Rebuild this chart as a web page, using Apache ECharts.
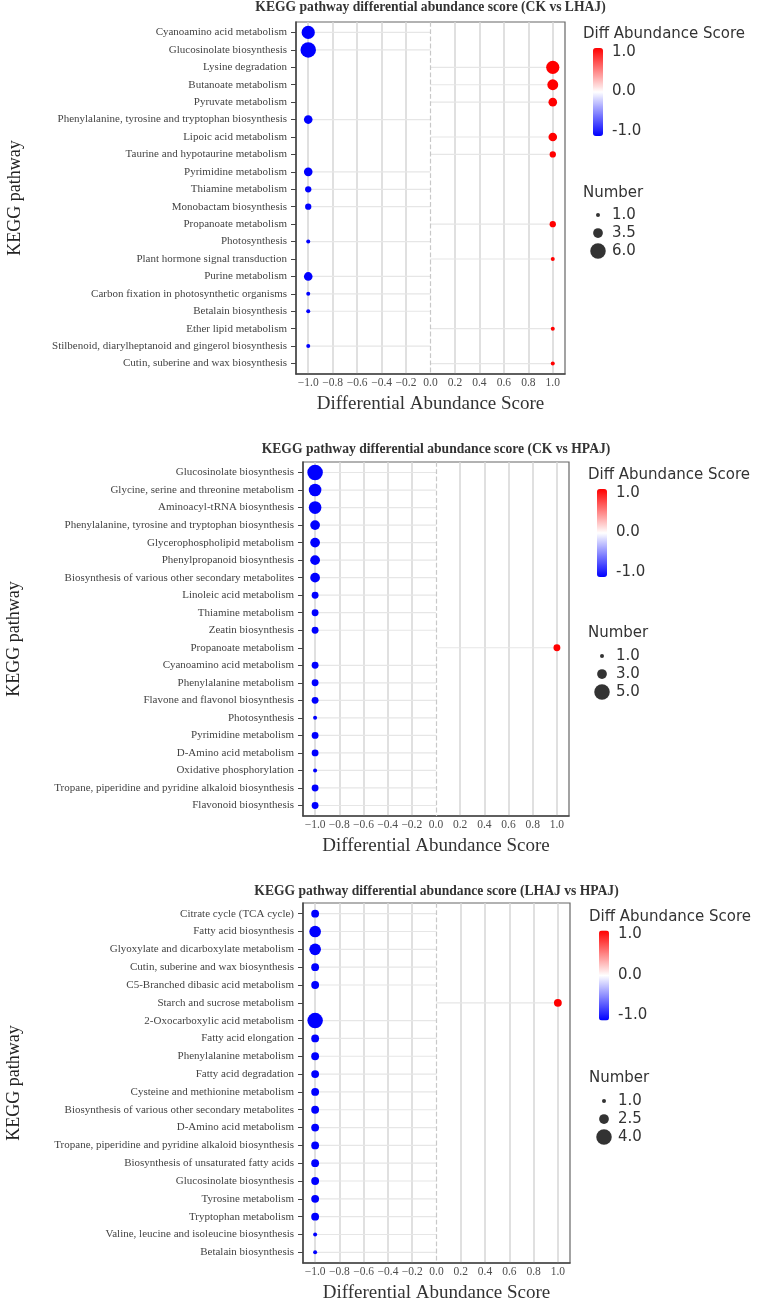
<!DOCTYPE html>
<html>
<head>
<meta charset="utf-8">
<title>KEGG pathway differential abundance score</title>
<script src="https://cdn.jsdelivr.net/npm/echarts@6/dist/echarts.min.js"></script>
<style>
  html, body { margin: 0; padding: 0; background: #fff; }
  #chart { width: 758px; height: 1304px; }
</style>
</head>
<body>
<div id="chart"></div>
<script>
// ---- data ----
var titles = [
  'KEGG pathway differential abundance score (CK vs LHAJ)',
  'KEGG pathway differential abundance score (CK vs HPAJ)',
  'KEGG pathway differential abundance score (LHAJ vs HPAJ)'
];

var cats1 = ['Cyanoamino acid metabolism', 'Glucosinolate biosynthesis', 'Lysine degradation',
  'Butanoate metabolism', 'Pyruvate metabolism', 'Phenylalanine, tyrosine and tryptophan biosynthesis',
  'Lipoic acid metabolism', 'Taurine and hypotaurine metabolism', 'Pyrimidine metabolism',
  'Thiamine metabolism', 'Monobactam biosynthesis', 'Propanoate metabolism', 'Photosynthesis',
  'Plant hormone signal transduction', 'Purine metabolism', 'Carbon fixation in photosynthetic organisms',
  'Betalain biosynthesis', 'Ether lipid metabolism',
  'Stilbenoid, diarylheptanoid and gingerol biosynthesis', 'Cutin, suberine and wax biosynthesis'];
var score1 = [-1, -1, 1, 1, 1, -1, 1, 1, -1, -1, -1, 1, -1, 1, -1, -1, -1, 1, -1, 1];
var num1 = [5, 6, 5, 4, 3, 3, 3, 2, 3, 2, 2, 2, 1, 1, 3, 1, 1, 1, 1, 1];
var breaks1 = [1.0, 3.5, 6.0];

var cats2 = ['Glucosinolate biosynthesis', 'Glycine, serine and threonine metabolism',
  'Aminoacyl-tRNA biosynthesis', 'Phenylalanine, tyrosine and tryptophan biosynthesis',
  'Glycerophospholipid metabolism', 'Phenylpropanoid biosynthesis',
  'Biosynthesis of various other secondary metabolites', 'Linoleic acid metabolism',
  'Thiamine metabolism', 'Zeatin biosynthesis', 'Propanoate metabolism', 'Cyanoamino acid metabolism',
  'Phenylalanine metabolism', 'Flavone and flavonol biosynthesis', 'Photosynthesis',
  'Pyrimidine metabolism', 'D-Amino acid metabolism', 'Oxidative phosphorylation',
  'Tropane, piperidine and pyridine alkaloid biosynthesis', 'Flavonoid biosynthesis'];
var score2 = [-1, -1, -1, -1, -1, -1, -1, -1, -1, -1, 1, -1, -1, -1, -1, -1, -1, -1, -1, -1];
var num2 = [5, 4, 4, 3, 3, 3, 3, 2, 2, 2, 2, 2, 2, 2, 1, 2, 2, 1, 2, 2];
var breaks2 = [1.0, 3.0, 5.0];

var cats3 = ['Citrate cycle (TCA cycle)', 'Fatty acid biosynthesis',
  'Glyoxylate and dicarboxylate metabolism', 'Cutin, suberine and wax biosynthesis',
  'C5-Branched dibasic acid metabolism', 'Starch and sucrose metabolism',
  '2-Oxocarboxylic acid metabolism', 'Fatty acid elongation', 'Phenylalanine metabolism',
  'Fatty acid degradation', 'Cysteine and methionine metabolism',
  'Biosynthesis of various other secondary metabolites', 'D-Amino acid metabolism',
  'Tropane, piperidine and pyridine alkaloid biosynthesis', 'Biosynthesis of unsaturated fatty acids',
  'Glucosinolate biosynthesis', 'Tyrosine metabolism', 'Tryptophan metabolism',
  'Valine, leucine and isoleucine biosynthesis', 'Betalain biosynthesis'];
var score3 = [-1, -1, -1, -1, -1, 1, -1, -1, -1, -1, -1, -1, -1, -1, -1, -1, -1, -1, -1, -1];
var num3 = [2, 3, 3, 2, 2, 2, 4, 2, 2, 2, 2, 2, 2, 2, 2, 2, 2, 2, 1, 1];
var breaks3 = [1.0, 2.5, 4.0];

var xTicks = [-1.0, -0.8, -0.6, -0.4, -0.2, 0.0, 0.2, 0.4, 0.6, 0.8, 1.0];
var colorTicks = ['1.0', '0.0', '-1.0'];

// ---- layout ----
var serif = '"Liberation Serif", "Times New Roman", serif';
var sans = '"DejaVu Sans", sans-serif';

var panels = [
  { cats: cats1, score: score1, num: num1, breaks: breaks1,
    grid: { left: 296, top: 22, width: 269, height: 352 }, titleY: 7.5,
    legX: 583, legTitleY: 34, barX: 593, barY: 48, barH: 88, labX: 612, labY: [52, 91, 131],
    numY: 193, symY: [215, 233, 251], yTitle: [15, 198] },
  { cats: cats2, score: score2, num: num2, breaks: breaks2,
    grid: { left: 303, top: 462, width: 266, height: 354 }, titleY: 449.5,
    legX: 588, legTitleY: 475, barX: 597, barY: 489, barH: 88, labX: 616, labY: [493, 532, 572],
    numY: 633, symY: [656, 674, 692], yTitle: [14, 639] },
  { cats: cats3, score: score3, num: num3, breaks: breaks3,
    grid: { left: 303, top: 903, width: 267, height: 360 }, titleY: 891,
    legX: 589, legTitleY: 917, barX: 599, barY: 930.5, barH: 90, labX: 618, labY: [934, 975, 1015],
    numY: 1078, symY: [1101, 1119, 1137], yTitle: [14, 1083] }
];

function fmtTick(v) {
  return Number(v).toFixed(1).replace('-', '\u2212');
}

function sizeFn(n, breaks) {
  var lo = breaks[0], hi = breaks[breaks.length - 1];
  return 4 + (n - lo) / (hi - lo) * 11.5;
}

function segItem(params, api) {
  var a = api.coord([0, api.value(1)]);
  var b = api.coord([api.value(0), api.value(1)]);
  return {
    type: 'line',
    shape: { x1: a[0], y1: a[1], x2: b[0], y2: b[1] },
    style: { stroke: '#e6e6e6', lineWidth: 1.2 }
  };
}

// zero gridline replaced by the dashed line
var gridColors = xTicks.map(function (t) { return t === 0 ? 'rgba(0,0,0,0)' : '#d6d6d6'; });

var grids = [], xAxes = [], yAxes = [], series = [], visualMaps = [], graphics = [];

panels.forEach(function (p, i) {
  var rows = p.cats.map(function (c, j) { return j; });
  grids.push(Object.assign({ show: true, borderColor: '#666', borderWidth: 1.2 }, p.grid));

  xAxes.push({
    gridIndex: i, type: 'value', min: -1.1, max: 1.1,
    name: 'Differential Abundance Score', nameLocation: 'middle', nameGap: 21,
    nameTextStyle: { fontFamily: serif, fontSize: 19, color: '#333' },
    axisLine: { show: true, onZero: false, lineStyle: { color: '#444', width: 1.5 } },
    axisTick: { show: false, customValues: xTicks },
    axisLabel: { customValues: xTicks, formatter: fmtTick, margin: 3,
      fontFamily: serif, fontSize: 11.5, color: '#4d4d4d' },
    splitLine: { show: true, lineStyle: { color: gridColors, width: 1.5 } }
  });

  yAxes.push({
    gridIndex: i, type: 'value', inverse: true, min: -0.6, max: 19.6,
    axisLine: { show: true, onZero: false, lineStyle: { color: '#444', width: 1.5 } },
    axisTick: { show: true, length: 5, customValues: rows, lineStyle: { color: '#444', width: 1 } },
    axisLabel: { customValues: rows, margin: 9, fontFamily: serif, fontSize: 11, color: '#444',
      formatter: function (v) { return p.cats[Math.round(v)]; } },
    splitLine: { show: false }
  });

  series.push({
    type: 'custom', xAxisIndex: i, yAxisIndex: i, silent: true, z: 1,
    encode: { x: 0, y: 1 },
    renderItem: segItem,
    data: p.score.map(function (s, j) { return [s, j]; })
  });

  series.push({
    type: 'scatter', xAxisIndex: i, yAxisIndex: i, z: 3,
    data: p.score.map(function (s, j) { return [s, j, p.num[j]]; }),
    symbolSize: function (v) { return sizeFn(v[2], p.breaks); },
    itemStyle: { opacity: 1 },
    markLine: {
      silent: true, symbol: 'none', label: { show: false },
      lineStyle: { type: 'dashed', color: '#c8c8c8', width: 1.2 },
      data: [{ xAxis: 0 }]
    }
  });

  visualMaps.push({
    type: 'continuous', seriesIndex: 2 * i + 1, dimension: 0, min: -1, max: 1,
    inRange: { color: ['#0000ff', '#ffffff', '#ff0000'] },
    calculable: false, hoverLink: false, orient: 'vertical', padding: 0,
    left: p.barX, top: p.barY, itemWidth: 10, itemHeight: p.barH
  });

  // panel title
  graphics.push({
    type: 'text', x: p.grid.left + p.grid.width / 2, y: p.titleY,
    style: { text: titles[i], align: 'center', verticalAlign: 'middle',
      fontFamily: serif, fontSize: 13.6, fontWeight: 'bold', fill: '#333' }
  });
  // y axis title
  graphics.push({
    type: 'text', x: p.yTitle[0], y: p.yTitle[1], rotation: Math.PI / 2,
    style: { text: 'KEGG pathway', align: 'center', verticalAlign: 'middle',
      fontFamily: serif, fontSize: 18, fill: '#222' }
  });
  // colour legend
  graphics.push({
    type: 'text', x: p.legX, y: p.legTitleY,
    style: { text: 'Diff Abundance Score', align: 'left', verticalAlign: 'middle',
      fontFamily: sans, fontSize: 15, fill: '#333' }
  });
  colorTicks.forEach(function (t, k) {
    graphics.push({
      type: 'text', x: p.labX, y: p.labY[k],
      style: { text: t, align: 'left', verticalAlign: 'middle',
        fontFamily: sans, fontSize: 15, fill: '#333' }
    });
  });
  // size legend
  graphics.push({
    type: 'text', x: p.legX, y: p.numY,
    style: { text: 'Number', align: 'left', verticalAlign: 'middle',
      fontFamily: sans, fontSize: 15, fill: '#333' }
  });
  p.breaks.forEach(function (b, k) {
    graphics.push({
      type: 'circle', shape: { cx: p.barX + 5, cy: p.symY[k], r: sizeFn(b, p.breaks) / 2 },
      style: { fill: '#333' }
    });
    graphics.push({
      type: 'text', x: p.labX, y: p.symY[k],
      style: { text: b.toFixed(1), align: 'left', verticalAlign: 'middle',
        fontFamily: sans, fontSize: 15, fill: '#333' }
    });
  });
});

var chart = echarts.init(document.getElementById('chart'));
chart.setOption({
  animation: false,
  backgroundColor: '#fff',
  grid: grids,
  xAxis: xAxes,
  yAxis: yAxes,
  visualMap: visualMaps,
  series: series,
  graphic: graphics
});
</script>
</body>
</html>
